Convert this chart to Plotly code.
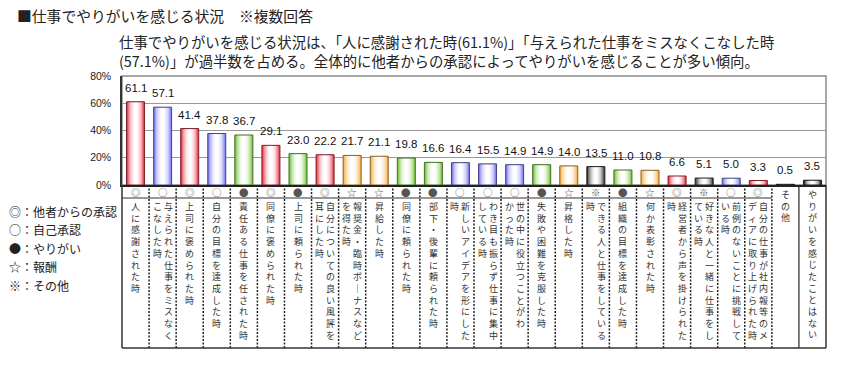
import plotly.graph_objects as go

# ---------------- data ----------------
categories = [
    "人に感謝された時",
    "与えられた仕事をミスなくこなした時",
    "上司に褒められた時",
    "自分の目標を達成した時",
    "責任ある仕事を任された時",
    "同僚に褒められた時",
    "上司に頼られた時",
    "自分についての良い風評を耳にした時",
    "報奨金・臨時ボーナスなどを得た時",
    "昇給した時",
    "同僚に頼られた時",
    "部下・後輩に頼られた時",
    "新しいアイデアを形にした時",
    "わき目も振らず仕事に集中している時",
    "世の中に役立つことがわかった時",
    "失敗や困難を克服した時",
    "昇格した時",
    "できる人と仕事をしている時",
    "組織の目標を達成した時",
    "何か表彰された時",
    "経営者から声を掛けられた時",
    "好きな人と一緒に仕事をしている時",
    "前例のないことに挑戦している時",
    "自分の仕事が社内報等のメディアに取り上げられた時",
    "その他",
    "やりがいを感じたことはない",
]

values = [61.1, 57.1, 41.4, 37.8, 36.7, 29.1, 23.0, 22.2, 21.7, 21.1,
          19.8, 16.6, 16.4, 15.5, 14.9, 14.9, 14.0, 13.5, 11.0, 10.8,
          6.6, 5.1, 5.0, 3.3, 0.5, 3.5]

symbols = ["◎", "○", "◎", "○", "●", "◎", "●", "◎", "☆", "☆",
           "●", "●", "○", "○", "○", "●", "☆", "※", "●", "☆",
           "◎", "※", "○", "◎", "", ""]

# vertical label columns as printed (right column first)
label_columns = [
    ["人に感謝された時"],
    ["与えられた仕事をミスなく", "こなした時"],
    ["上司に褒められた時"],
    ["自分の目標を達成した時"],
    ["責任ある仕事を任された時"],
    ["同僚に褒められた時"],
    ["上司に頼られた時"],
    ["自分についての良い風評を", "耳にした時"],
    ["報奨金・臨時ボーナスなど", "を得た時"],
    ["昇給した時"],
    ["同僚に頼られた時"],
    ["部下・後輩に頼られた時"],
    ["新しいアイデアを形にした", "時"],
    ["わき目も振らず仕事に集中", "している時"],
    ["世の中に役立つことがわ", "かった時"],
    ["失敗や困難を克服した時"],
    ["昇格した時"],
    ["できる人と仕事をしている", "時"],
    ["組織の目標を達成した時"],
    ["何か表彰された時"],
    ["経営者から声を掛けられた", "時"],
    ["好きな人と一緒に仕事をし", "ている時"],
    ["前例のないことに挑戦して", "いる時"],
    ["自分の仕事が社内報等のメ", "ディアに取り上げられた時"],
    ["その他"],
    ["やりがいを感じたことはない"],
]

legend_items = ["◎：他者からの承認", "○：自己承認", "●：やりがい", "☆：報酬", "※：その他"]

y_ticks = [0, 20, 40, 60, 80]
y_tick_labels = ["0%", "20%", "40%", "60%", "80%"]

title_text = "■仕事でやりがいを感じる状況　※複数回答"
subtitle_lines = [
    "仕事でやりがいを感じる状況は、「人に感謝された時(61.1%)」「与えられた仕事をミスなくこなした時",
    "(57.1%)」が過半数を占める。全体的に他者からの承認によってやりがいを感じることが多い傾向。",
]

# ---------------- styling ----------------
group_color = {"◎": "#e8384a", "○": "#7b7bef", "●": "#78c640",
               "☆": "#f5b24a", "※": "#3a3a3a", "": "#2a2a2a"}

W, H = 850, 370
# plot area in page pixels: x 122..826, y 76..185
L, R, T, B = 122, W - 826, 76, H - 185
PW = W - L - R
PH = H - T - B


def px(X):  # page pixel -> paper x
    return (X - L) / PW


def py(Y):  # page pixel -> paper y
    return (H - B - Y) / PH


def hex2rgb(h):
    h = h.lstrip("#")
    return tuple(int(h[i:i + 2], 16) for i in (0, 2, 4))


def blend(h, t, target=(255, 255, 255)):
    r, g, b = hex2rgb(h)
    return "rgb(%d,%d,%d)" % (round(r + (target[0] - r) * t),
                              round(g + (target[1] - g) * t),
                              round(b + (target[2] - b) * t))


base_cols = [group_color[s] for s in symbols]
n = len(categories)
BW = 0.665

fig = go.Figure()
layers = [(1.0, 0.0), (0.86, 0.3), (0.72, 0.55), (0.58, 0.72), (0.44, 0.85), (0.30, 0.94), (0.16, 1.0)]
for wf, t in layers:
    fig.add_bar(x=categories, y=values, width=BW * wf,
                marker=dict(color=[blend(c, t) for c in base_cols], line=dict(width=0)),
                hoverinfo="skip")
# outline
fig.add_bar(x=categories, y=values, width=BW,
            marker=dict(color="rgba(0,0,0,0)",
                        line=dict(width=1, color=[blend(c, 0.45, (0, 0, 0)) for c in base_cols])),
            hoverinfo="skip")

annotations = []
num_font = dict(family="Arial, Liberation Sans, sans-serif", size=11.5, color="#111")
jp = "Noto Sans CJK JP"

# value labels
for c, v in zip(categories, values):
    annotations.append(dict(x=c, y=v, xref="x", yref="y", text=f"{v:.1f}",
                            showarrow=False, yanchor="bottom", yshift=6, font=num_font))

# symbols row and vertical labels
for i, (c, s, cols) in enumerate(zip(categories, symbols, label_columns)):
    if s:
        annotations.append(dict(x=c, y=py(191.5), xref="x", yref="paper", text=s,
                                showarrow=False, yanchor="middle",
                                font=dict(family=jp, size=9.5, color="#555")))
        top = 198
    else:
        top = 185.5
    k = len(cols)
    for j, col in enumerate(cols):
        shift = 0 if k == 1 else (5.5 if j == 0 else -5.5)
        txt = "<br>".join(list(col.replace("ー", "｜")))
        annotations.append(dict(x=c, y=py(top), xref="x", yref="paper", text=txt,
                                showarrow=False, yanchor="top", xshift=shift,
                                font=dict(family=jp, size=9, color="#333")))

# title & subtitle
annotations.append(dict(x=px(15), y=py(15), xref="paper", yref="paper", text=title_text,
                        showarrow=False, xanchor="left", yanchor="middle",
                        font=dict(family=jp, size=14.8, color="#222")))
annotations.append(dict(x=px(117), y=py(51), xref="paper", yref="paper",
                        text="<br>".join(subtitle_lines), align="left",
                        showarrow=False, xanchor="left", yanchor="middle",
                        font=dict(family=jp, size=14.4, color="#222")))

# legend text
for k, item in enumerate(legend_items):
    annotations.append(dict(x=px(7), y=py(211 + 18.6 * k), xref="paper", yref="paper",
                            text=item, showarrow=False, xanchor="left", yanchor="middle",
                            font=dict(family=jp, size=12, color="#222")))

shapes = []
# plot border (top / right grey)
shapes.append(dict(type="rect", xref="paper", yref="paper", x0=0, x1=1, y0=0, y1=1,
                   line=dict(color="#8a8a8a", width=1.5), layer="below"))
# table
yb = py(348)
ysym = py(198)
for i in range(1, n):
    solid = (i == n - 1)
    shapes.append(dict(type="line", xref="paper", yref="paper", x0=i / n, x1=i / n,
                       y0=0, y1=yb,
                       line=dict(color="#222", width=1.5 if not solid else 1.2,
                                 dash="solid" if solid else "2px,1.5px")))
shapes.append(dict(type="line", xref="paper", yref="paper", x0=0, x1=(n - 2) / n,
                   y0=ysym, y1=ysym, line=dict(color="#333", width=1.2)))
for xx in (0, 1):
    shapes.append(dict(type="line", xref="paper", yref="paper", x0=xx, x1=xx,
                       y0=0, y1=yb, line=dict(color="#333", width=1.5)))
shapes.append(dict(type="line", xref="paper", yref="paper", x0=0, x1=1,
                   y0=yb, y1=yb, line=dict(color="#333", width=1.5)))

fig.update_layout(
    width=W, height=H,
    margin=dict(l=L, r=R, t=T, b=B, pad=0),
    barmode="overlay",
    showlegend=False,
    hovermode=False,
    plot_bgcolor="white", paper_bgcolor="white",
    annotations=annotations,
    shapes=shapes,
    xaxis=dict(type="category", categoryorder="array", categoryarray=categories,
               range=[-0.5, n - 0.5], showticklabels=False, ticks="", automargin=False,
               showgrid=False, zeroline=False, showline=True, linecolor="#222", linewidth=1.5),
    yaxis=dict(range=[0, 80], tickmode="array", tickvals=y_ticks, ticktext=y_tick_labels,
               ticks="", ticklabelstandoff=7, automargin=False,
               tickfont=dict(family="Arial, Liberation Sans, sans-serif", size=10.5, color="#222"),
               showgrid=True, gridcolor="#9a9a9a", gridwidth=1, zeroline=False,
               showline=True, linecolor="#333", linewidth=1.5),
)

# remove the browser's default 8px body margin so the figure sits at the page origin
fig.write_html("out.html", config={"displayModeBar": False},
               post_script="document.body.style.margin='0';")
